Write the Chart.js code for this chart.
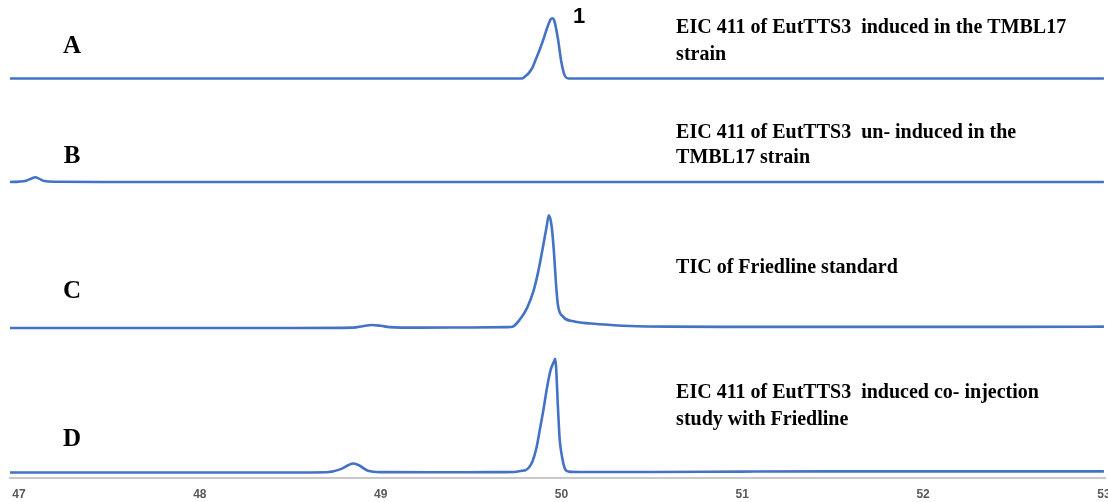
<!DOCTYPE html>
<html><head><meta charset="utf-8">
<script src="https://cdn.jsdelivr.net/npm/chart.js@4.4.1/dist/chart.umd.min.js"></script>
<style>html,body{margin:0;padding:0;background:#fff;} canvas{display:block;}</style>
</head><body>
<canvas id="c" width="1108" height="502"></canvas>
<script>
// Retention time ticks (min)
const xTicks = [47, 48, 49, 50, 51, 52, 53];

// Trace A: EIC 411, induced, TMBL17
const timesA  = [46.95, 47.5, 48.0, 48.5, 49.0, 49.5, 49.7, 49.78, 49.80, 49.82, 49.84, 49.86, 49.88, 49.90, 49.92, 49.94, 49.95, 49.96, 49.98, 50.00, 50.02, 50.04, 50.2, 50.5, 51.0, 51.5, 52.0, 52.5, 53.0];
const valuesA = [0, 0, 0, 0, 0, 0, 0, 0, 2, 5, 10, 18, 26, 35, 45, 53, 54, 52, 36, 14, 2, 0, 0, 0, 0, 0, 0, 0, 0];

// Trace B: EIC 411, un-induced, TMBL17
const timesB  = [46.95, 47.0, 47.04, 47.07, 47.09, 47.11, 47.14, 47.2, 47.5, 48.0, 48.5, 49.0, 49.5, 50.0, 50.5, 51.0, 51.5, 52.0, 52.5, 53.0];
const valuesB = [0, 0.3, 1.2, 3.2, 4.2, 3.0, 0.8, 0.2, 0, 0, 0, 0, 0, 0, 0, 0, 0, 0, 0, 0];

// Trace C: TIC of Friedline standard
const timesC  = [46.95, 47.5, 48.0, 48.5, 48.85, 48.9, 48.95, 49.0, 49.05, 49.2, 49.5, 49.7, 49.73, 49.77, 49.81, 49.845, 49.872, 49.90, 49.918, 49.93, 49.945, 49.958, 49.97, 49.98, 50.01, 50.065, 50.16, 50.29, 50.38, 50.6, 51.0, 51.5, 52.0, 52.5, 53.0];
const valuesC = [0, 0, 0, 0, 0.3, 1.6, 2.7, 2.0, 0.8, 0.3, 0.5, 0.8, 1.2, 7.6, 18, 33, 51, 75, 91, 101, 92, 69, 39, 21, 10, 6, 4, 2.5, 1.8, 1.2, 1.0, 1.0, 1.0, 1.0, 1.2];

// Trace D: EIC 411, induced, co-injection with Friedline
const timesD  = [46.95, 47.5, 48.0, 48.5, 48.7, 48.78, 48.82, 48.85, 48.88, 48.93, 49.0, 49.3, 49.6, 49.74, 49.78, 49.80, 49.82, 49.84, 49.86, 49.88, 49.90, 49.92, 49.94, 49.96, 49.965, 49.97, 49.98, 49.99, 50.0, 50.02, 50.04, 50.1, 50.5, 51.0, 51.5, 52.0, 52.5, 53.0];
const valuesD = [0, 0, 0, 0, 0.2, 3, 6.5, 8, 6.5, 1.5, 0.3, 0.2, 0.3, 0.5, 1.5, 2, 4.5, 10, 21, 38, 56, 76, 92, 100, 102, 95, 60, 30, 17, 3, 0.8, 0.5, 0.5, 0.8, 1, 1, 1, 1];

const traceLetters = ['A', 'B', 'C', 'D'];
const traceTitles = [
  ['EIC 411 of EutTTS3  induced in the TMBL17', 'strain'],
  ['EIC 411 of EutTTS3  un- induced in the', 'TMBL17 strain'],
  ['TIC of Friedline standard'],
  ['EIC 411 of EutTTS3  induced co- injection', 'study with Friedline']
];
const peakLabel = '1';

const traceAxes = ['yA', 'yB', 'yC', 'yD'];
const traceTimes = [timesA, timesB, timesC, timesD];
const traceValues = [valuesA, valuesB, valuesC, valuesD];

const textPlugin = {
  id: 'traceText',
  afterDatasetsDraw(chart, args, opts) {
    const ctx = chart.ctx;
    const xs = chart.scales.x;
    ctx.save();
    ctx.fillStyle = '#000';
    ctx.textBaseline = 'middle';
    traceAxes.forEach((id, i) => {
      const ys = chart.scales[id];
      ctx.font = 'bold 25px "Liberation Serif"';
      ctx.textAlign = 'center';
      ctx.fillText(traceLetters[i], xs.getPixelForValue(opts.letterX), ys.getPixelForValue(opts.letterY[i]));
      ctx.font = 'bold 20px "Liberation Serif"';
      ctx.textAlign = 'left';
      traceTitles[i].forEach((line, j) => {
        ctx.fillText(line, xs.getPixelForValue(opts.titleX), ys.getPixelForValue(opts.titleY[i][j]));
      });
    });
    ctx.font = 'bold 22px "Liberation Sans"';
    ctx.textAlign = 'center';
    ctx.fillText(peakLabel, xs.getPixelForValue(opts.peakX), chart.scales.yA.getPixelForValue(opts.peakY));
    ctx.restore();
  }
};

const bandWeights = [75.5, 103.5, 146, 144.5];
const bandMax = [63.2, 88.3, 126.5, 125.1];

const yScales = {};
traceAxes.forEach((id, i) => {
  yScales[id] = {
    type: 'linear', position: 'left', stack: 'traces',
    stackWeight: bandWeights[i], weight: 4 - i,
    display: false, min: -4.5, max: bandMax[i]
  };
});

new Chart(document.getElementById('c'), {
  type: 'line',
  data: {
    datasets: traceAxes.map((id, i) => ({
      label: traceLetters[i],
      data: traceTimes[i].map((t, k) => ({ x: t, y: traceValues[i][k] })),
      yAxisID: id
    }))
  },
  options: {
    responsive: false,
    animation: false,
    layout: { padding: { left: 10, right: 3, top: 8, bottom: 0 } },
    plugins: {
      legend: { display: false },
      tooltip: { enabled: false },
      traceText: {
        letterX: 47.293,
        letterY: [28.3, 22.4, 32.3, 29.1],
        titleX: 50.634,
        titleY: [[45, 21], [44, 21.5], [54], [71.3, 47]],
        peakX: 50.097,
        peakY: 55.5
      }
    },
    elements: {
      point: { radius: 0 },
      line: { borderColor: '#4472C4', borderWidth: 2.6, cubicInterpolationMode: 'monotone' }
    },
    scales: Object.assign({
      x: {
        type: 'linear', position: 'bottom', min: 46.95, max: 53.006,
        grid: { display: false, drawTicks: false },
        border: { display: true, color: '#c9c9c9', width: 2 },
        ticks: { padding: 9.5, color: '#595959', font: { family: 'Liberation Sans', size: 12, weight: 'bold' } },
        afterBuildTicks: (s) => { s.ticks = xTicks.map(v => ({ value: v })); },
        afterFit: (s) => { s.paddingLeft = 0; s.paddingRight = 0; s.height = 24.5; }
      }
    }, yScales)
  },
  plugins: [textPlugin]
});
</script>
</body></html>
